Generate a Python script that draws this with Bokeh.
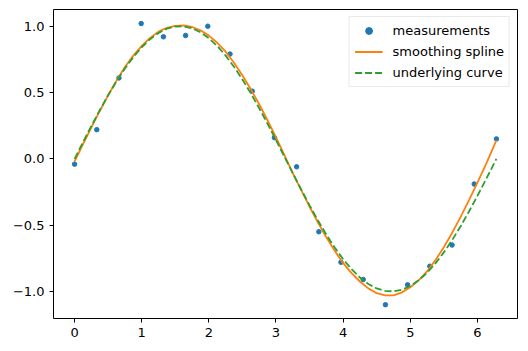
from bokeh.plotting import figure
from bokeh.models import Range1d, FixedTicker, CustomJSTickFormatter, Legend, LegendItem
from bokeh.embed import file_html
from bokeh.resources import INLINE

# measurements
meas_x = [0.0, 0.331, 0.661, 0.992, 1.323, 1.653, 1.984, 2.315, 2.646, 2.976,
          3.307, 3.638, 3.968, 4.299, 4.630, 4.960, 5.291, 5.622, 5.952, 6.283]
meas_y = [-0.04, 0.22, 0.61, 1.02, 0.92, 0.93, 1.00, 0.79, 0.51, 0.16,
          -0.06, -0.55, -0.78, -0.91, -1.10, -0.95, -0.81, -0.65, -0.19, 0.15]

# curves
curve_x = [0.0, 0.125, 0.25, 0.375, 0.5, 0.625, 0.75, 0.875, 1.0, 1.125, 1.25, 1.375,
           1.5, 1.625, 1.75, 1.875, 2.0, 2.125, 2.25, 2.375, 2.5, 2.625, 2.75, 2.875,
           3.0, 3.125, 3.25, 3.375, 3.5, 3.625, 3.75, 3.875, 4.0, 4.125, 4.25, 4.375,
           4.5, 4.625, 4.75, 4.875, 5.0, 5.125, 5.25, 5.375, 5.5, 5.625, 5.75, 5.875,
           6.0, 6.125, 6.25, 6.283]
spline_y = [-0.020, 0.110, 0.237, 0.361, 0.479, 0.590, 0.692, 0.778, 0.852, 0.912,
            0.959, 0.988, 1.003, 1.006, 0.994, 0.969, 0.929, 0.875, 0.808, 0.724,
            0.629, 0.524, 0.412, 0.289, 0.161, 0.027, -0.108, -0.236, -0.361, -0.480,
            -0.592, -0.694, -0.787, -0.862, -0.925, -0.977, -1.013, -1.029, -1.029,
            -1.007, -0.969, -0.916, -0.849, -0.764, -0.666, -0.557, -0.438, -0.312,
            -0.179, -0.043, 0.102, 0.140]
true_y = [0.0, 0.1247, 0.2474, 0.3663, 0.4794, 0.5851, 0.6816, 0.7675, 0.8415, 0.9023,
          0.9490, 0.9809, 0.9975, 0.9985, 0.9840, 0.9541, 0.9093, 0.8504, 0.7781, 0.6937,
          0.5985, 0.4939, 0.3817, 0.2634, 0.1411, 0.0166, -0.1082, -0.2313, -0.3508,
          -0.4648, -0.5716, -0.6694, -0.7568, -0.8324, -0.8950, -0.9437, -0.9775,
          -0.9962, -0.9993, -0.9867, -0.9589, -0.9161, -0.8589, -0.7885, -0.7055,
          -0.6115, -0.5083, -0.3969, -0.2794, -0.1575, -0.0332, 0.0]

x_ticks = [0, 1, 2, 3, 4, 5, 6]
y_ticks = [-1.0, -0.5, 0.0, 0.5, 1.0]

p = figure(width=528, height=351, output_backend="svg", toolbar_location=None,
           x_range=Range1d(-0.314, 6.597), y_range=Range1d(-1.204, 1.126),
           min_border_left=53, min_border_right=11, min_border_top=9, min_border_bottom=33)

p.background_fill_color = "white"
p.border_fill_color = "white"
p.outline_line_color = "black"
p.outline_line_width = 1
p.xgrid.visible = False
p.ygrid.visible = False

r_meas = p.scatter(meas_x, meas_y, size=4.5, color="#1f77b4")
r_spline = p.line(curve_x, spline_y, line_color="#ff7f0e", line_width=1.8)
r_true = p.line(curve_x, true_y, line_color="#2ca02c", line_width=1.8, line_dash="7 3")

for ax in (p.xaxis[0], p.yaxis[0]):
    ax.axis_line_color = None
    ax.major_tick_out = 4
    ax.major_tick_in = 0
    ax.minor_tick_line_color = None
    ax.major_tick_line_color = "black"
    ax.major_label_text_font = "DejaVu Sans"
    ax.major_label_text_font_size = "13px"
    ax.major_label_text_color = "black"
    ax.major_label_standoff = 5

p.xaxis[0].ticker = FixedTicker(ticks=x_ticks)
p.yaxis[0].ticker = FixedTicker(ticks=y_ticks)
p.xaxis[0].formatter = CustomJSTickFormatter(code="return tick.toFixed(0).replace('-', '\u2212');")
p.yaxis[0].formatter = CustomJSTickFormatter(code="return tick.toFixed(1).replace('-', '\u2212');")

legend = Legend(items=[
    LegendItem(label="measurements", renderers=[r_meas]),
    LegendItem(label="smoothing spline", renderers=[r_spline]),
    LegendItem(label="underlying curve", renderers=[r_true]),
], location="top_right")
legend.label_text_font = "DejaVu Sans"
legend.label_text_font_size = "13px"
legend.label_text_color = "black"
legend.border_line_color = "#d5d5d5"
legend.border_line_width = 1
legend.background_fill_alpha = 0.8
legend.glyph_width = 28
legend.glyph_height = 17
legend.label_height = 17
legend.spacing = 4
legend.padding = 5
legend.margin = 7
legend.label_standoff = 10
p.add_layout(legend)

open("out.html", "w").write(file_html(p, INLINE))
